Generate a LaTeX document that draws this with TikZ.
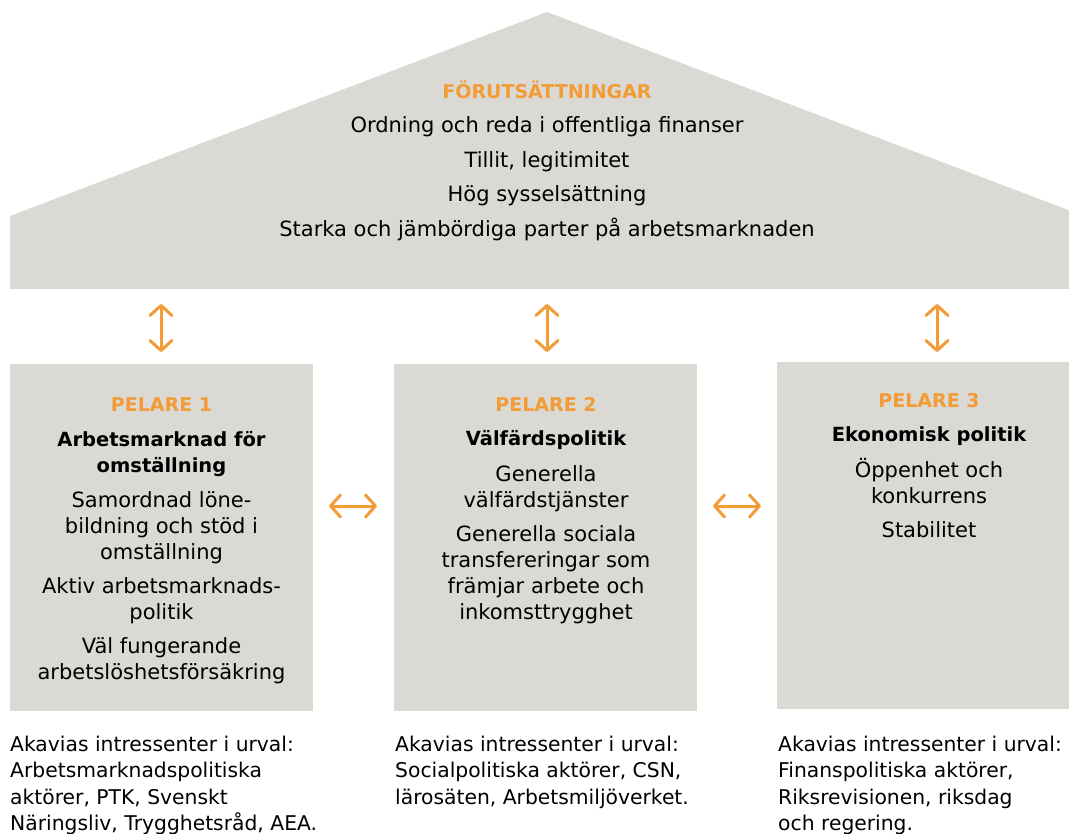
\documentclass[tikz,border=0pt]{standalone}
\usepackage{fontspec}
\setmainfont{DejaVu Sans}
\usetikzlibrary{arrows.meta}
\definecolor{panel}{HTML}{DAD9D4}
\definecolor{accent}{HTML}{F39B36}
\begin{document}
\begin{tikzpicture}[x=1pt,y=-1pt,
  panelbox/.style={fill=panel,draw=none,inner sep=0,anchor=north west,minimum width=303pt,minimum height=347pt},
  kicker/.style={font=\bfseries\fontsize{19}{26}\selectfont,text=accent,inner sep=0,anchor=base},
  heading/.style={font=\bfseries\fontsize{19.5}{26}\selectfont,inner sep=0,anchor=base,align=center},
  body/.style={font=\fontsize{21}{26}\selectfont,inner sep=0,anchor=base,align=center},
  roofline/.style={font=\fontsize{21}{26}\selectfont,inner sep=0,anchor=base},
  note/.style={font=\fontsize{20.3}{26.5}\selectfont,inner sep=0,anchor=base west,align=left},
  biarrow/.style={draw=accent,line width=3pt,line cap=round,
    {Straight Barb[length=10pt,width=22pt,line cap=round,line join=round]}-{Straight Barb[length=10pt,width=22pt,line cap=round,line join=round]}}
]
\useasboundingbox (0,0) rectangle (1069,834);
\begin{scope}
\clip (0,0) rectangle (1069,834);

% roof
\fill[panel] (10,289) -- (10,216) -- (547,12) -- (1084,216) -- (1084,289) -- cycle;
\node[kicker] (roofhead) at (547,99) {FÖRUTSÄTTNINGAR};
\node[roofline] (cond1) at (547,133) {Ordning och reda i offentliga finanser};
\node[roofline] (cond2) at (547,168) {Tillit, legitimitet};
\node[roofline] (cond3) at (547,202) {Hög sysselsättning};
\node[roofline] (cond4) at (547,237) {Starka och jämbördiga parter på arbetsmarknaden};

% pillars
\node[panelbox] (pillar1) at (10,364) {};
\node[panelbox] (pillar2) at (394,364) {};
\node[panelbox] (pillar3) at (777,362) {};

% pillar 1 (multi-line nodes are placed by the baseline of their last line)
\node[kicker] (p1head) at (161.5,412) {PELARE 1};
\node[heading] (p1title) at (161.5,472) {Arbetsmarknad för\\omställning};
\node[body] (p1a) at (161.5,559) {Samordnad löne-\\bildning och stöd i\\omställning};
\node[body] (p1b) at (161.5,619) {Aktiv arbetsmarknads-\\politik};
\node[body] (p1c) at (161.5,679) {Väl fungerande\\arbetslöshetsförsäkring};

% pillar 2
\node[kicker] (p2head) at (546,412) {PELARE 2};
\node[heading] (p2title) at (546,446) {Välfärdspolitik};
\node[body] (p2a) at (546,507) {Generella\\välfärdstjänster};
\node[body] (p2b) at (546,619) {Generella sociala\\transfereringar som\\främjar arbete och\\inkomsttrygghet};

% pillar 3
\node[kicker] (p3head) at (929,408) {PELARE 3};
\node[heading] (p3title) at (929,442) {Ekonomisk politik};
\node[body] (p3a) at (929,503) {Öppenhet och\\konkurrens};
\node[body] (p3b) at (929,537) {Stabilitet};

% stakeholders
\node[note] (n1) at (10,830.5) {Akavias intressenter i urval:\\Arbetsmarknadspolitiska\\aktörer, PTK, Svenskt\\Näringsliv, Trygghetsråd, AEA.};
\node[note] (n2) at (395,804) {Akavias intressenter i urval:\\Socialpolitiska aktörer, CSN,\\lärosäten, Arbetsmiljöverket.};
\node[note] (n3) at (778,830.5) {Akavias intressenter i urval:\\Finanspolitiska aktörer,\\Riksrevisionen, riksdag\\och regering.};

% links between roof and pillars
\coordinate (r1) at (161,304); \coordinate (q1) at (161,352);
\coordinate (r2) at (547,304); \coordinate (q2) at (547,352);
\coordinate (r3) at (937,304); \coordinate (q3) at (937,352);
\draw[biarrow] (r1) -- (q1);
\draw[biarrow] (r2) -- (q2);
\draw[biarrow] (r3) -- (q3);

% links between pillars
\coordinate (h1a) at (329,506); \coordinate (h1b) at (377,506);
\coordinate (h2a) at (713,506); \coordinate (h2b) at (761,506);
\draw[biarrow] (h1a) -- (h1b);
\draw[biarrow] (h2a) -- (h2b);
\end{scope}
\end{tikzpicture}
\end{document}
